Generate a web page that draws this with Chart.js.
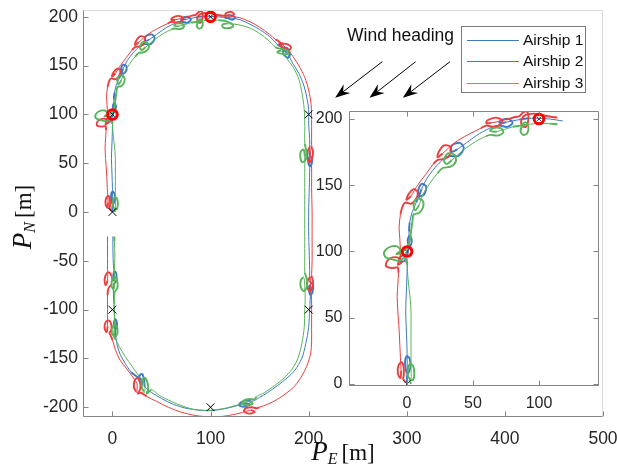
<!DOCTYPE html>
<html>
<head>
<meta charset="utf-8">
<script src="https://cdn.jsdelivr.net/npm/chart.js@4.4.1/dist/chart.umd.min.js"></script>
<style>
  html, body { margin:0; padding:0; background:#fff; }
  #wrap { position:relative; width:617px; height:472px; overflow:hidden; }
  #main { position:absolute; left:0; top:0; }
  #inset { position:absolute; left:300px; top:100px; }
  .txt { position:absolute; font-family:'Liberation Sans', Arial, sans-serif; color:#111; white-space:nowrap; }
  #legend { position:absolute; left:461px; top:26px; width:125px; height:67px; border:1px solid #7a7a7a; background:#fff; box-sizing:border-box; }
  .lrow { position:absolute; left:0; height:20px; width:124px; }
  .lline { position:absolute; left:5px; width:52px; top:10px; height:0; border-top:1px solid; }
  .ltext { position:absolute; left:61px; top:0; font-family:'Liberation Sans', Arial, sans-serif; font-size:15.5px; line-height:20px; color:#111; }
  .axlab { position:absolute; font-family:'Liberation Serif', 'DejaVu Serif', serif; color:#111; white-space:nowrap; text-align:center; }
  .axlab i { font-size:27px; }
  .axlab sub { font-size:16px; font-style:italic; vertical-align:-4px; line-height:0; }
  .axlab span { font-size:23px; }
</style>
</head>
<body>
<div id="wrap">
  <canvas id="main" width="617" height="472"></canvas>
  <canvas id="inset" width="312" height="312"></canvas>
  <div class="txt" style="left:347px; top:25px; font-size:17.5px;">Wind heading</div>
  <div id="legend"></div>
  <div class="axlab" style="left:243px; top:436px; width:200px; line-height:30px;"><i>P</i><sub>E</sub> <span>[m]</span></div>
  <div class="axlab" style="left:-78px; top:202px; width:200px; height:30px; line-height:30px; transform:rotate(-90deg);"><i>P</i><sub>N</sub> <span>[m]</span></div>
</div>
<script>
// ---------- tick values ----------
const xTicksMain = [0, 100, 200, 300, 400, 500];
const yTicksMain = [-200, -150, -100, -50, 0, 50, 100, 150, 200];
const xTicksInset = [0, 50, 100];
const yTicksInset = [0, 50, 100, 150, 200];

// ---------- series ----------
const seriesNames = ['Airship 1', 'Airship 2', 'Airship 3'];
const seriesColors = ['rgb(62,122,196)', 'rgb(236,62,62)', 'rgb(88,180,88)'];

// Airship 1: first part (also shown in inset), then rest of the lap
const ship1Early = [[0,0],[0,6],[2.5,12],[2,19],[0,21],[-1.5,17],[-1,11],[0,8],[0,25],[-0.5,40],[-1,55],[-0.5,70],[0,85],[0,94],[-2,93],[-5,92],[-6,95],[-3,97],[0,98],[1,102],[3,105],[3.5,109],[2,112],[0.5,109],[1,105],[1.5,104],[1.5,115],[2,122],[4,130],[7,137],[9,141],[13,143],[14.5,149],[11,151],[8.5,146],[9,142],[11,147],[15,155],[21,163],[28,170],[33,172],[39,172],[43,178],[40,182],[34,180],[33,175],[38,177],[45,182],[55,189],[65,194],[70,195],[76,194],[80,197],[77,200],[71,199],[70,197],[75,197.5],[85,199.5],[92,200.5],[100,200.5],[108,200],[118,198.5]];
const ship1Late = [[122,197],[125,199],[122,201.5],[116,201],[115,199],[120,199],[130,197],[140,192.5],[150,187],[160,180],[168,172],[173,169],[178,168],[181,162],[179,158],[175,161],[174,166],[178,163],[184,152],[190,142],[195,130],[198,118],[200,105],[200,90],[201,75],[201,63],[201,58],[203.5,55],[203,49],[201,47],[199.5,51],[200,56],[201,52],[201,40],[200.5,20],[200,0],[200,-20],[200.5,-40],[201,-60],[201,-70],[202,-72],[204.5,-75],[204,-82],[202,-85],[200.5,-81],[201,-75],[202,-79],[201.5,-90],[201,-100],[200,-118],[197,-135],[193,-150],[186,-162],[178,-170],[168,-178],[158,-185],[150,-190],[142,-194],[137,-193],[131,-195],[129,-198],[134,-199.5],[140,-197],[135,-196],[125,-199],[112,-202],[100,-203.5],[88,-203],[75,-201],[62,-197],[50,-191],[40,-185],[33,-179],[32.5,-173],[30.5,-166],[28,-167],[27.5,-173],[30,-177],[30,-172],[24,-168],[19,-164],[13,-155],[8,-146],[5,-137],[3.5,-128],[3,-121],[4.5,-118],[4.5,-113],[3,-110],[1.5,-113],[2,-119],[3,-116],[2,-105],[1.5,-95],[1,-85],[1,-75],[2,-73],[4,-70],[4,-64],[2.5,-61],[1,-64],[1,-70],[2,-67],[1,-55],[0.5,-40],[0.5,-25]];

// Airship 2
const ship2Early = [[-1,1],[-3,4],[-2.5,6],[-2.5,12],[-4,16.5],[-6.5,14],[-7,8],[-5,4.5],[-4.5,10],[-5,20],[-5.5,30],[-6,41],[-7,55],[-7.5,66],[-7,75],[-6.5,84],[-7,88],[-8,88],[-12,87.5],[-16,89],[-15,93],[-11,95.5],[-6,95],[-4,92],[-7,90],[-5,96],[-5,100],[-5.5,110],[-6,118],[-5,128],[-3,135],[-1,137],[3,136],[7,140],[8,145],[5,147],[1,143],[-0.5,139],[3,142],[8,150],[14,158],[20,166],[23,169],[29,170],[33,174],[33,179],[28,180],[24,175],[23,171],[27,174],[36,182],[46,188],[56,193],[60,195],[66,194],[71,196],[72,199],[67,201],[61,199],[60,197],[64,197],[75,199.5],[82,201.5],[85,202],[88,205],[91,205.5],[92,200],[90,194],[87,195],[87,200],[90,203],[96,204],[100,203.5],[107,202],[114,201]];
const ship2Late = [[118,201.5],[122,201],[124,203],[121,205],[116,204],[115,202],[119,201],[130,199],[140,195],[150,189.5],[160,182],[166,177],[168,176],[172,173],[178,172],[182,169],[180,166],[174,168],[170,172],[174,171],[182,162],[190,150],[196,138],[200,125],[202.5,110],[203,95],[203,80],[203,68],[203,66],[204.5,62],[203.5,55],[201,51],[198.5,55],[199,62],[201,66],[202,58],[203,45],[203,25],[203.5,0],[203.5,-25],[203.5,-50],[203,-65],[203,-66],[204.5,-71],[203.5,-78],[201,-81],[198.5,-77],[199,-70],[202,-67],[202,-75],[203,-90],[203,-105],[203,-120],[203,-132],[202,-145],[198,-158],[193,-168],[186,-178],[178,-185],[168,-192],[158,-197],[150,-200],[147,-201],[142,-200],[136,-201],[134,-204],[139,-206.5],[145,-205],[141,-203],[130,-206],[115,-209],[100,-210],[85,-208.5],[70,-205],[57,-200],[45,-194],[35,-189],[29,-185],[26,-186],[28.5,-181],[28,-174],[25.5,-170],[22.5,-173],[22,-180],[24.5,-184],[25,-176],[20,-168],[14,-160],[8,-152],[3,-141],[0,-131],[-2,-126],[-3,-124],[-1,-120],[-1.5,-114],[-4,-111],[-7,-113],[-8,-119],[-6,-123],[-5,-117],[-5,-105],[-5,-95],[-5,-85],[-4,-78],[-1,-74],[-1,-66],[-3,-62],[-6,-63],[-8,-69],[-7,-75],[-5,-70],[-5,-55],[-5,-40],[-5,-25]];

// Airship 3
const ship3Early = [[3,0],[2,3],[4.5,3],[5.5,8],[4.5,14],[2,15],[0.5,10],[1,5],[3,4],[3,12],[3,22],[3,32],[3,42],[3,54],[2.5,63],[1.5,72],[0.5,82],[0,90],[-2,95],[-6,93],[-11,94],[-16,95.5],[-17.5,99],[-14,103],[-8,104],[-5,101],[-8,98],[-3,100],[0,103],[2,108],[3,115],[4,122],[5,128],[9,129],[12,133],[12,138],[8,140],[5,136],[6,131],[9,135],[12,143],[17,151],[23,159],[27,163],[33,164],[37,168],[36,173],[31,174],[28,169],[30,166],[34,169],[42,176],[52,183],[60,187],[63,188],[69,187.5],[73,190],[71,193],[65,193],[63,191],[68,190.5],[80,194],[86,195],[87,196],[90,197.5],[92,194],[91,189],[88,188],[86,191],[88,195],[92,196],[100,196.5],[108,196.5],[114,196]];
const ship3Late = [[117,195],[121,193.5],[123,190.5],[119,188.5],[113,189],[112,192],[117,193],[128,192],[140,188.5],[150,183],[160,175],[166,169],[168,168],[173,167],[179,165],[179,162],[173,162],[168,164],[172,165],[178,157],[185,147],[190,136],[193,123],[195,110],[196,95],[196,80],[196,70],[197,66],[198,60],[196.5,53],[193.5,51],[191.5,56],[192,62],[195,64],[196,57],[196,45],[196,25],[196,0],[196,-25],[196,-50],[196,-62],[197,-65],[198.5,-70],[198,-77],[195,-81],[192,-77],[192,-70],[195,-67],[196,-75],[196.5,-90],[196,-100],[195.5,-118],[193,-135],[189,-150],[183,-161],[175,-170],[165,-178],[155,-185],[147,-189],[145,-192],[140,-191.5],[134,-193],[132,-196],[137,-198],[143,-196.5],[139,-194],[128,-197.5],[115,-201],[100,-203],[85,-202.5],[72,-199],[60,-194],[48,-188],[40,-182],[35,-186],[36.5,-181],[35.5,-174],[33,-170],[30,-173],[30,-180],[32.5,-184],[33,-176],[27,-168],[20,-158],[13,-148],[7,-138],[3,-130],[2,-129],[5,-125],[5,-119],[3,-116],[0,-118],[-0.5,-124],[1.5,-127],[2,-121],[2,-110],[2,-95],[2,-85],[2,-82],[5,-78],[5,-71],[3,-67],[0,-69],[-1,-75],[1,-79],[2,-73],[2,-60],[2.5,-45],[2,-30],[2,-25]];

// ---------- markers ----------
const mainCrosses = [[0,0],[0,-100],[100,-200],[200,-100],[200,100]];
const mainCircles = [[0,100],[100,200]];
const insetCrosses = [[0,0]];
const insetCircles = [[0,100],[100,200]];

// ---------- wind arrows (main-axes data units) ----------
const windTails = [[275,154],[309,154],[344,154]];
const windHeads = [[227,117],[262,117],[296,117]];

// ---------- helpers ----------
const toXY = arr => arr.map(p => ({x:p[0], y:p[1]}));
const tickFont = size => ({family:"'Liberation Sans', Arial, sans-serif", size:size});

function lineDataset(i, pts) {
  return { label:seriesNames[i], data:toXY(pts), showLine:true, borderColor:seriesColors[i],
           borderWidth:1, pointRadius:0, tension:0.3, fill:false, order:3 - i + 2,
           segment:{ borderWidth: ctx => {
             const a = ctx.p0.parsed, b = ctx.p1.parsed;
             return Math.hypot(a.x - b.x, a.y - b.y) < 7.5 ? 1.9 : 1;
           } } };
}
function markerDatasets(crosses, circles, crossCol) {
  return [
    { label:'cross', data:toXY(crosses.concat(circles)), showLine:false, pointStyle:'crossRot',
      pointRadius:[...crosses.map(()=>5.5), ...circles.map(()=>3)], borderColor:crossCol, borderWidth:1, order:0 },
    { label:'circle', data:toXY(circles), showLine:false, pointStyle:'circle', pointRadius:4.8,
      borderColor:'#ff0000', backgroundColor:'rgba(0,0,0,0)', borderWidth:3, order:1 }
  ];
}

function framePlugin(cfg) {
  return {
    id: cfg.id,
    beforeDatasetsDraw(chart) {
      const {ctx, chartArea:a} = chart;
      if (cfg.fill) { ctx.save(); ctx.fillStyle = '#fff'; ctx.fillRect(a.left, a.top, a.right-a.left, a.bottom-a.top); ctx.restore(); }
    },
    afterDatasetsDraw(chart) {
      const {ctx, chartArea:a, scales:{x, y}} = chart;
      ctx.save();
      ctx.lineWidth = 1;
      const L = Math.round(a.left)+0.5, R = Math.round(a.right)-0.5, T = Math.round(a.top)+0.5, B = Math.round(a.bottom)-0.5;
      ctx.strokeStyle = cfg.boxColor;
      ctx.beginPath(); ctx.moveTo(L, T); ctx.lineTo(R, T); ctx.lineTo(R, B); ctx.stroke();
      ctx.strokeStyle = cfg.axisColor;
      ctx.beginPath(); ctx.moveTo(L, T); ctx.lineTo(L, B); ctx.lineTo(R, B); ctx.stroke();
      ctx.beginPath();
      const tl = cfg.tickLen;
      x.ticks.forEach(t => { const px = Math.round(x.getPixelForValue(t.value))+0.5;
        ctx.moveTo(px, B); ctx.lineTo(px, B - tl);
        if (cfg.allSides) { ctx.moveTo(px, T); ctx.lineTo(px, T + tl); } });
      y.ticks.forEach(t => { const py = Math.round(y.getPixelForValue(t.value))+0.5;
        ctx.moveTo(L, py); ctx.lineTo(L + tl, py);
        if (cfg.allSides) { ctx.moveTo(R, py); ctx.lineTo(R - tl, py); } });
      ctx.stroke();
      ctx.restore();
    }
  };
}

const windPlugin = {
  id:'wind',
  afterDraw(chart) {
    const {ctx, scales:{x, y}} = chart;
    ctx.save();
    ctx.strokeStyle = '#000'; ctx.fillStyle = '#000'; ctx.lineWidth = 1;
    windTails.forEach((tail, i) => {
      const x0 = x.getPixelForValue(tail[0]), y0 = y.getPixelForValue(tail[1]);
      const x1 = x.getPixelForValue(windHeads[i][0]), y1 = y.getPixelForValue(windHeads[i][1]);
      const ang = Math.atan2(y1 - y0, x1 - x0);
      const hl = 15, hw = 5.5, notch = 10;
      const ux = Math.cos(ang), uy = Math.sin(ang);
      ctx.beginPath(); ctx.moveTo(x0, y0); ctx.lineTo(x1 - ux*notch, y1 - uy*notch); ctx.stroke();
      ctx.beginPath();
      ctx.moveTo(x1, y1);
      ctx.lineTo(x1 - ux*hl - uy*hw, y1 - uy*hl + ux*hw);
      ctx.lineTo(x1 - ux*notch, y1 - uy*notch);
      ctx.lineTo(x1 - ux*hl + uy*hw, y1 - uy*hl - ux*hw);
      ctx.closePath(); ctx.fill();
    });
    ctx.restore();
  }
};

function axisOpts(min, max, ticksArr, fitFn, size, pad) {
  return { type:'linear', min:min, max:max,
    grid:{display:false, drawTicks:false}, border:{display:false},
    afterBuildTicks: s => { s.ticks = ticksArr.map(v => ({value:v})); },
    afterFit: s => { fitFn(s); s.paddingTop = 0; s.paddingBottom = 0; s.paddingLeft = 0; s.paddingRight = 0; },
    ticks:{ padding:pad, font:tickFont(size), color:'#262626', maxRotation:0, autoSkip:false, callback: v => String(v) } };
}

// ---------- main chart ----------
new Chart(document.getElementById('main'), {
  type:'scatter',
  data:{ datasets:[
    ...markerDatasets(mainCrosses, mainCircles, '#000'),
    lineDataset(0, ship1Early.concat(ship1Late)),
    lineDataset(1, ship2Early.concat(ship2Late)),
    lineDataset(2, ship3Early.concat(ship3Late))
  ]},
  options:{
    responsive:false, animation:false, devicePixelRatio:1,
    layout:{ padding:{left:0, top:10, right:14, bottom:0} },
    plugins:{ legend:{display:false}, tooltip:{enabled:false} },
    scales:{
      x: axisOpts(-30, 500, xTicksMain, s => { s.height = 55; }, 17.5, 11.5),
      y: axisOpts(-210, 207, yTicksMain, s => { s.width = 83; }, 17.5, 5)
    }
  },
  plugins:[ framePlugin({id:'frameMain', boxColor:'#dadada', axisColor:'#858585', tickLen:5, allSides:false, fill:false}), windPlugin ]
});

// ---------- inset chart ----------
new Chart(document.getElementById('inset'), {
  type:'scatter',
  data:{ datasets:[
    ...markerDatasets(insetCrosses, insetCircles, '#444'),
    lineDataset(0, ship1Early),
    lineDataset(1, ship2Early),
    lineDataset(2, ship3Early)
  ]},
  options:{
    responsive:false, animation:false, devicePixelRatio:1,
    layout:{ padding:{left:0, top:11, right:13, bottom:0} },
    plugins:{ legend:{display:false}, tooltip:{enabled:false} },
    scales:{
      x: axisOpts(-44, 145.5, xTicksInset, s => { s.height = 26; }, 16, 7.5),
      y: axisOpts(-1.5, 206, yTicksInset, s => { s.width = 49; }, 16, 6.5)
    }
  },
  plugins:[ framePlugin({id:'frameInset', boxColor:'#858585', axisColor:'#858585', tickLen:5, allSides:true, fill:true}) ]
});

// ---------- legend ----------
const legendEl = document.getElementById('legend');
seriesNames.forEach((name, i) => {
  const row = document.createElement('div');
  row.className = 'lrow';
  row.style.top = (3 + i * 21.3) + 'px';
  row.innerHTML = '<div class="lline" style="border-top-color:' + seriesColors[i] + '"></div><div class="ltext">' + name + '</div>';
  legendEl.appendChild(row);
});
</script>
</body>
</html>
